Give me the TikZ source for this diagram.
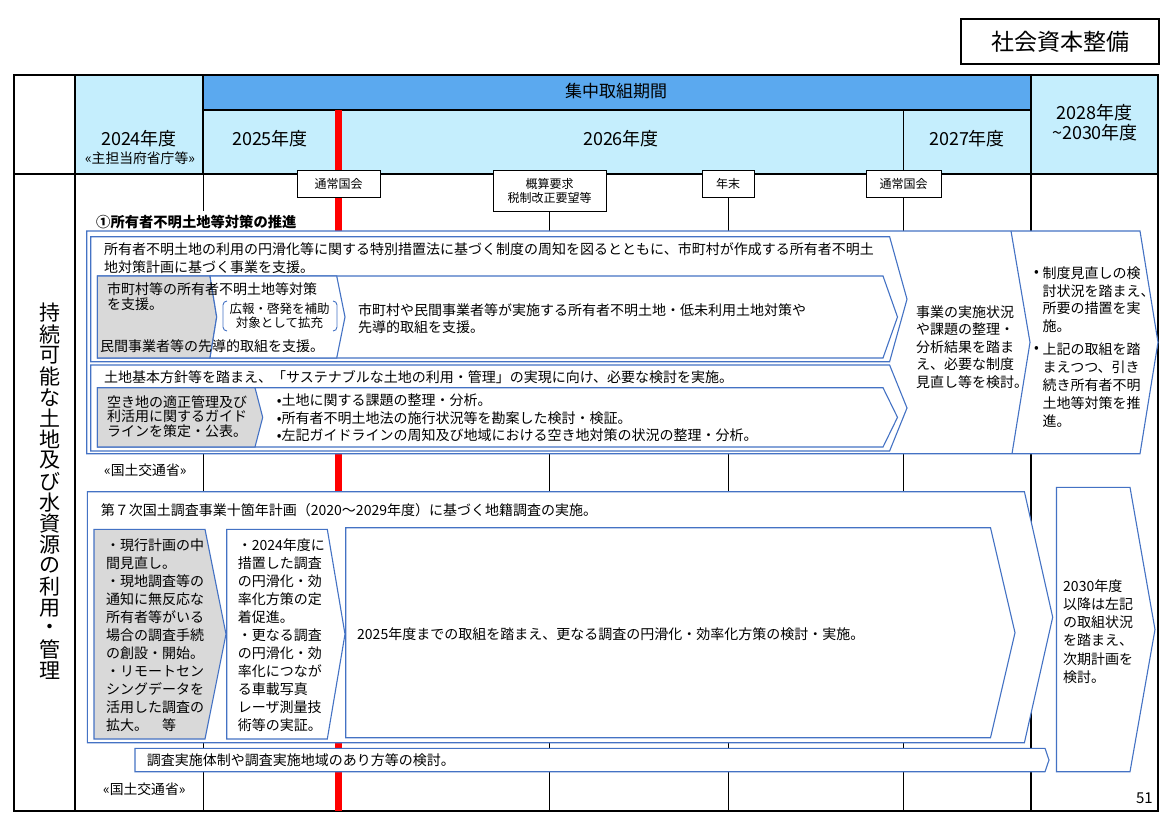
\documentclass[tikz,border=0pt]{standalone}
\usepackage{fontspec}
\newfontfamily\jp{Noto Sans CJK JP}
\definecolor{bl}{RGB}{68,114,196}
\definecolor{bandc}{RGB}{91,169,239}
\definecolor{lb}{RGB}{197,238,253}
\definecolor{gr}{RGB}{217,217,217}
\definecolor{rd}{RGB}{255,0,0}
\newcommand{\mypent}[6]{\path[#1] (#2,#5) -- (#3,#5) -- (#4,{(#5+#6)/2}) -- (#3,#6) -- (#2,#6) -- cycle;}
\newcommand{\mychev}[7]{\path[#1] (#2,#6) -- (#4,#6) -- (#5,{(#6+#7)/2}) -- (#4,#7) -- (#2,#7) -- (#3,{(#6+#7)/2}) -- cycle;}
\tikzset{
  shp/.style={draw=bl, line width=1.1pt, fill=white, line join=miter},
  gshp/.style={shp, fill=gr},
  t14/.style={font=\jp\fontsize{14}{17}\selectfont, inner sep=0pt, anchor=west},
  t13/.style={font=\jp\fontsize{13.8}{15}\selectfont, inner sep=0pt, anchor=west},
  h18/.style={font=\jp\fontsize{18}{20}\selectfont, inner sep=0pt},
  mbox/.style={draw, fill=white, line width=0.9pt, inner sep=0pt, font=\jp\fontsize{12}{14}\selectfont, align=center},
}
\begin{document}
\begin{tikzpicture}[x=1pt,y=-1pt]
\useasboundingbox (0,0) rectangle (1170,827);
\fill[white] (0,0) rectangle (1170,827);
% title
\node[draw, line width=2pt, minimum width=198pt, minimum height=45pt, inner sep=0pt, font=\jp\fontsize{23}{23}\selectfont] (ttl) at (1060,41.5) {社会資本整備};
% header fills
\fill[lb] (75,75) rectangle (203,174);
\fill[bandc] (203,75) rectangle (1031,110);
\fill[lb] (203,110) rectangle (1031,174);
\fill[lb] (1031,75) rectangle (1158,174);
\coordinate (bot) at (0,811);
% grid
\draw[line width=1.5pt] (203,110) -- (1031,110);
\draw[line width=1.3pt] (203,75) -- (203,174);
\draw[line width=1.3pt] (903.5,110) -- (903.5,174);
\draw[line width=1pt] (203,174) -- (203,811);
\draw[line width=1.6pt] (1031,75) -- (1031,811);
\draw[line width=2pt] (14,174) -- (1158,174);
\draw[line width=2pt] (75,75) -- (75,811);
\draw[line width=1.6pt] (14,75) rectangle (1158,811);
% red line
\coordinate (rtop) at (338.5,110);
\draw[rd, line width=6.5pt] (rtop) -- (rtop |- bot);
% header texts
\node[font=\jp\fontsize{17}{17}\selectfont, inner sep=0pt] (band) at (616,91) {集中取組期間};
\node[h18] (y24) at (139,139) {2024年度};
\node[font=\jp\fontsize{13.8}{14}\selectfont, inner sep=0pt] (y24b) at (140,158.5) {«主担当府省庁等»};
\node[h18] (y25) at (270,139) {2025年度};
\node[h18] (y26) at (621,139) {2026年度};
\node[h18] (y27) at (967,139) {2027年度};
\node[h18] (y28) at (1094.5,113) {2028年度};
\node[h18] (y30) at (1095,133) {\textasciitilde2030年度};
% milestones
\node[mbox, minimum width=83pt, minimum height=27pt] (m1) at (338.5,183.5) {通常国会};
\node[mbox, minimum width=113pt, minimum height=41pt] (m2) at (549.5,190.5) {概算要求\\税制改正要望等};
\node[mbox, minimum width=52pt, minimum height=27pt] (m3) at (728,183.5) {年末};
\node[mbox, minimum width=75pt, minimum height=27pt] (m4) at (903.5,183.5) {通常国会};
\draw[line width=1pt] (m2.south) -- (m2.south |- bot);
\draw[line width=1pt] (m3.south) -- (m3.south |- bot);
\draw[line width=1pt] (m4.south) -- (m4.south |- bot);
% left column
\foreach \c [count=\i] in {持,続,可,能,な,土,地,及,び,水,資,源,の,利,用,・,管,理}
  \node[font=\jp\fontsize{21}{21}\selectfont, inner sep=0pt] (lc\i) at (50,{313+(\i-1)*21.06}) {\c};
% ===== section 1
\node[font=\jp\bfseries\fontsize{14.3}{17}\selectfont, anchor=west, fill=white, inner xsep=1pt, inner ysep=4pt] (s1) at (95,222) {①所有者不明土地等対策の推進};
\mypent{shp}{86.7}{1140}{1158}{231}{453.7}
\draw[bl, line width=1.1pt] (1011,231) -- (1030,342.35) -- (1012,453.7);
\mypent{shp}{90.7}{889.6}{907}{236.7}{361.7}
\mypent{shp}{97.3}{883}{897.5}{276}{358}
\mypent{gshp}{97.3}{210}{216.7}{276}{358}
\mychev{shp}{210}{216.7}{336.7}{345}{276}{358}
\draw[bl, line width=0.9pt, rounded corners=4pt] (227,301) -- (223,301) -- (223,331) -- (227,331);
\draw[bl, line width=0.9pt, rounded corners=4pt] (333,301) -- (337,301) -- (337,331) -- (333,331);
\mypent{shp}{90.7}{889.6}{907}{365}{451}
\mypent{shp}{97.3}{883}{897.5}{387.7}{447}
\mypent{gshp}{97.3}{255}{262.7}{387.7}{447}
\node[t14] (s1a) at (104,249.3) {所有者不明土地の利用の円滑化等に関する特別措置法に基づく制度の周知を図るとともに、市町村が作成する所有者不明土};
\node[t14] (s1b) at (104,266.7) {地対策計画に基づく事業を支援。};
\node[t14] (s1c) at (107,288.7) {市町村等の所有者不明土地等対策};
\node[t14] (s1d) at (107,304.3) {を支援。};
\node[t14] (s1e) at (100,346) {民間事業者等の先導的取組を支援。};
\node[font=\jp\fontsize{12.5}{14}\selectfont, inner sep=0pt] (s1f) at (279.5,308.3) {広報・啓発を補助};
\node[font=\jp\fontsize{12.5}{14}\selectfont, inner sep=0pt] (s1g) at (279.5,322.3) {対象として拡充};
\node[t14] (s1h) at (358,309.7) {市町村や民間事業者等が実施する所有者不明土地・低未利用土地対策や};
\node[t14] (s1i) at (358,327.5) {先導的取組を支援。};
\node[t14] (s1j) at (104,377.3) {土地基本方針等を踏まえ、「サステナブルな土地の利用・管理」の実現に向け、必要な検討を実施。};
\node[t14] (s1k) at (107,401.7) {空き地の適正管理及び};
\node[t14] (s1l) at (107,416) {利活用に関するガイド};
\node[t14] (s1m) at (107,430.7) {ラインを策定・公表。};
\node[t14] (s1n) at (276.7,400.7) {•土地に関する課題の整理・分析。};
\node[t14] (s1o) at (276.7,417.7) {•所有者不明土地法の施行状況等を勘案した検討・検証。};
\node[t14] (s1p) at (276.7,435) {•左記ガイドラインの周知及び地域における空き地対策の状況の整理・分析。};
\foreach \s [count=\i] in {事業の実施状況,や課題の整理・,分析結果を踏ま,え、必要な制度,見直し等を検討。}
  \node[t14] (mid\i) at (916,{312.3+(\i-1)*17.35}) {\s};
\node[t14] (rb1) at (1034,273) {•};
\node[t14] (rb2) at (1034,349) {•};
\node[t14] (r1) at (1042.5,273) {制度見直しの検};
\node[t14] (r2) at (1042.5,291) {討状況を踏まえ、};
\node[t14] (r3) at (1042.5,308.5) {所要の措置を実};
\node[t14] (r4) at (1042.5,326) {施。};
\node[t14] (r5) at (1042.5,349) {上記の取組を踏};
\node[t14] (r6) at (1042.5,367.5) {まえつつ、引き};
\node[t14] (r7) at (1042.5,385.5) {続き所有者不明};
\node[t14] (r8) at (1042.5,403) {土地等対策を推};
\node[t14] (r9) at (1042.5,421) {進。};
\node[t13] (ag1) at (104,470) {«国土交通省»};
% ===== section 2
\mypent{shp}{87.3}{1024.4}{1052.7}{491.7}{742.7}
\mypent{gshp}{94}{205}{226}{529.3}{739}
\mypent{shp}{226.7}{327.3}{345}{529.3}{739}
\mypent{shp}{345.7}{990.5}{1015}{527.7}{737.7}
\mypent{shp}{135}{1045}{1049}{748.3}{771.7}
\mypent{shp}{1056.5}{1130}{1155}{487.3}{771.7}
\node[t14] (s2a) at (100.7,510) {第７次国土調査事業十箇年計画（2020～2029年度）に基づく地籍調査の実施。};
\foreach \s [count=\i] in {・現行計画の中,間見直し。,・現地調査等の,通知に無反応な,所有者等がいる,場合の調査手続,の創設・開始。,・リモートセン,シングデータを,活用した調査の,拡大。　等}
  \node[t14] (ga\i) at (106,{545+(\i-1)*18}) {\s};
\foreach \s [count=\i] in {・2024年度に,措置した調査,の円滑化・効,率化方策の定,着促進。,・更なる調査,の円滑化・効,率化につなが,る車載写真,レーザ測量技,術等の実証。}
  \node[t14] (gb\i) at (237.7,{545+(\i-1)*18}) {\s};
\node[t14] (s2b) at (357,634) {2025年度までの取組を踏まえ、更なる調査の円滑化・効率化方策の検討・実施。};
\node[t14] (s2c) at (146.7,760) {調査実施体制や調査実施地域のあり方等の検討。};
\foreach \s [count=\i] in {2030年度,以降は左記,の取組状況,を踏まえ、,次期計画を,検討。}
  \node[t14] (rc\i) at (1063,{586+(\i-1)*18.2}) {\s};
\node[t13] (ag2) at (103,789) {«国土交通省»};
\node[font=\jp\fontsize{15}{15}\selectfont, inner sep=0pt, anchor=east] (pg) at (1153,798) {51};
\end{tikzpicture}
\end{document}
